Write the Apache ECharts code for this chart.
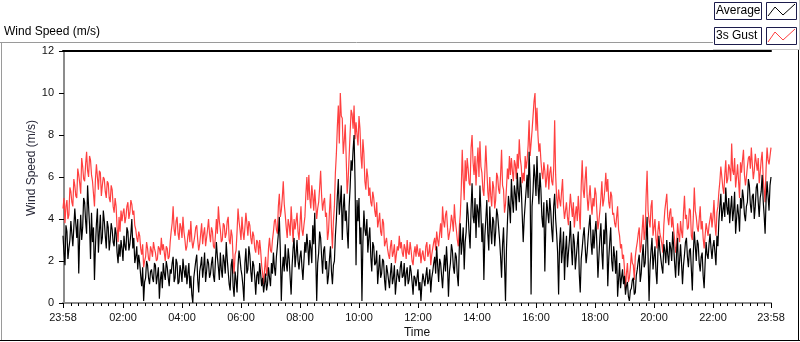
<!DOCTYPE html>
<html>
<head>
<meta charset="utf-8">
<title>Wind Speed (m/s)</title>
<script src="https://cdn.jsdelivr.net/npm/echarts@6.0.0/dist/echarts.min.js"></script>
<style>
  html, body { margin: 0; padding: 0; background: #fff; }
  #chart { width: 800px; height: 342px; }
</style>
</head>
<body>
<div id="chart"></div>
<script>
  // minutes from midnight; the record starts at 23:58 of the day before
  const startMinute = -2;
  const stepMinutes = 2;

  // one row per hour (30 samples), last row has the closing sample
  const avgSpeed = [
    3.2, 2.4, 1.8, 3.7, 3.4, 2.1, 2.6, 3.0, 3.9, 3.3, 2.7, 3.6, 4.5, 3.8, 3.1, 4.0, 1.4, 3.2, 4.2, 3.0, 3.6, 5.0, 4.8, 3.9, 3.3, 5.6, 4.6, 3.7, 2.1, 4.3,
    2.9, 3.6, 1.1, 2.7, 3.8, 4.5, 2.4, 3.4, 4.2, 2.8, 3.1, 4.4, 3.9, 3.2, 2.6, 3.9, 3.6, 2.5, 3.0, 3.8, 3.5, 2.9, 2.7, 3.6, 3.3, 2.4, 1.9, 2.8, 2.2, 3.0,
    2.6, 2.0, 3.2, 2.7, 2.5, 3.6, 3.4, 2.5, 2.8, 3.3, 4.0, 2.6, 3.1, 1.9, 2.2, 2.7, 1.6, 2.3, 1.9, 1.3, 0.8, 1.7, 0.1, 1.0, 1.2, 2.0, 1.8, 1.2, 0.9, 1.5,
    1.6, 1.2, 1.0, 1.9, 1.8, 0.9, 1.3, 1.7, 0.2, 1.1, 1.5, 0.7, 1.9, 1.4, 1.1, 2.0, 1.7, 1.2, 0.8, 1.6, 1.4, 1.9, 2.2, 1.0, 1.2, 2.1, 1.9, 0.9, 1.0, 1.8,
    1.5, 1.0, 2.1, 1.6, 1.2, 1.8, 0.9, 1.4, 1.9, 0.7, 1.3, 0.4, 0.0, 1.2, 1.6, 2.0, 2.3, 1.1, 0.5, 1.5, 1.8, 2.2, 1.2, 1.7, 2.4, 1.0, 1.5, 2.1, 1.9, 1.2,
    1.4, 1.9, 2.2, 1.3, 1.0, 2.0, 2.9, 2.2, 1.7, 1.1, 2.4, 1.6, 1.2, 2.3, 2.0, 1.4, 2.9, 2.1, 1.5, 0.9, 0.6, 1.8, 2.1, 0.8, 0.3, 1.5, 1.1, 0.5, 1.8, 2.5,
    2.1, 1.6, 1.3, 0.8, 0.1, 1.9, 2.6, 1.4, 1.6, 2.7, 2.3, 1.5, 1.0, 2.0, 1.8, 1.2, 0.4, 1.3, 1.5, 0.9, 1.9, 1.4, 0.8, 1.2, 0.5, 0.9, 1.4, 0.6, 0.9, 1.7,
    1.2, 0.8, 1.9, 1.4, 2.4, 1.7, 1.3, 2.2, 2.7, 3.3, 4.1, 2.5, 0.1, 1.6, 2.2, 1.5, 2.8, 1.9, 1.5, 2.6, 2.1, 1.2, 0.4, 1.8, 2.6, 3.1, 1.7, 2.3, 3.0, 2.0,
    1.6, 2.2, 2.5, 1.7, 1.1, 2.0, 2.9, 2.4, 3.3, 2.7, 1.8, 3.0, 2.6, 1.9, 3.7, 2.8, 4.3, 2.3, 0.1, 1.9, 2.4, 3.4, 3.1, 2.2, 1.4, 2.5, 2.7, 1.6, 2.0, 0.9,
    1.3, 2.1, 2.7, 1.5, 0.9, 1.8, 2.0, 3.2, 4.0, 5.1, 5.9, 4.2, 4.8, 5.6, 3.0, 4.5, 5.2, 3.9, 4.4, 3.4, 2.6, 4.6, 5.5, 6.8, 6.3, 7.3, 8.0, 5.8, 1.8, 4.9,
    3.9, 5.0, 2.8, 3.6, 0.1, 2.9, 4.4, 3.5, 3.2, 4.0, 2.4, 3.1, 3.6, 2.2, 1.5, 2.9, 2.7, 1.8, 1.9, 2.5, 0.9, 1.6, 2.3, 1.2, 1.4, 2.1, 2.0, 1.1, 0.6, 1.8,
    1.5, 1.1, 0.7, 1.4, 1.9, 0.9, 1.2, 1.8, 0.4, 1.0, 1.6, 1.3, 1.0, 1.7, 2.0, 1.2, 1.3, 1.9, 0.8, 1.4, 1.7, 0.9, 1.1, 1.8, 1.5, 1.0, 0.4, 1.3, 1.2, 0.8,
    1.2, 1.6, 0.6, 1.0, 0.1, 0.9, 1.4, 1.1, 0.8, 1.3, 1.7, 0.9, 1.1, 1.6, 0.5, 1.2, 1.5, 1.9, 2.2, 1.4, 2.7, 1.8, 1.0, 2.1, 1.9, 1.3, 0.7, 1.6, 2.3, 1.5,
    2.7, 1.8, 0.3, 1.5, 1.9, 2.8, 2.5, 1.7, 1.4, 2.4, 2.2, 1.3, 0.8, 2.6, 3.8, 2.3, 2.9, 3.6, 1.6, 2.9, 3.4, 4.8, 4.2, 3.3, 2.6, 4.5, 5.7, 4.1, 3.8, 5.0,
    3.1, 4.7, 4.4, 3.6, 5.6, 4.3, 2.9, 3.8, 1.1, 3.2, 4.0, 4.9, 3.3, 2.5, 4.6, 3.5, 2.8, 4.1, 3.9, 2.7, 3.4, 4.5, 4.2, 3.6, 3.0, 2.2, 1.2, 2.8, 3.6, 1.9,
    0.1, 2.6, 3.9, 5.1, 4.6, 3.8, 5.9, 4.9, 4.3, 5.6, 5.2, 4.4, 6.2, 5.3, 4.8, 6.0, 5.5, 4.2, 2.9, 4.0, 4.7, 5.4, 6.1, 5.0, 7.2, 5.8, 0.4, 4.6, 5.3, 6.6,
    6.0, 5.1, 7.0, 5.6, 4.7, 6.2, 5.4, 4.1, 3.6, 4.8, 1.5, 3.7, 4.9, 4.3, 3.8, 5.0, 4.4, 3.5, 2.9, 4.6, 5.2, 4.0, 3.3, 2.4, 0.4, 2.8, 3.6, 1.9, 2.5, 3.4,
    1.1, 2.5, 3.2, 1.7, 2.4, 3.0, 3.9, 2.6, 1.8, 3.3, 2.9, 1.6, 2.2, 2.8, 3.4, 1.4, 0.5, 2.1, 2.6, 3.2, 3.6, 2.7, 1.9, 2.4, 3.1, 3.7, 4.2, 2.9, 2.3, 3.5,
    2.6, 3.4, 3.9, 2.7, 1.2, 2.2, 3.1, 3.8, 2.4, 1.6, 3.5, 2.8, 4.3, 3.2, 0.8, 2.1, 2.9, 3.6, 2.0, 1.5, 2.7, 2.2, 1.4, 2.5, 0.3, 1.1, 1.9, 0.7, 1.2, 1.6,
    0.9, 1.3, 0.4, 0.8, 1.0, 0.3, 0.1, 0.6, 0.7, 1.1, 1.2, 0.4, 0.5, 1.3, 1.6, 2.0, 2.3, 1.0, 1.4, 2.2, 2.8, 1.7, 1.9, 3.0, 4.1, 2.2, 0.1, 1.8, 2.5, 3.1,
    1.6, 2.2, 2.7, 1.5, 0.9, 2.4, 3.2, 2.5, 2.1, 1.7, 1.4, 2.8, 2.5, 1.9, 3.0, 2.3, 1.8, 2.9, 2.6, 2.0, 3.4, 2.7, 1.9, 1.2, 2.4, 3.1, 1.3, 2.0, 2.8, 1.9,
    0.9, 1.8, 2.3, 2.9, 3.1, 2.2, 1.7, 2.5, 2.6, 1.6, 0.6, 2.4, 3.4, 2.7, 2.0, 3.0, 2.8, 1.9, 1.5, 2.2, 2.4, 1.3, 0.7, 1.9, 2.9, 2.3, 2.1, 2.8, 3.3, 2.6,
    2.1, 2.7, 3.0, 2.4, 1.8, 3.2, 2.7, 3.9, 4.6, 5.2, 3.9, 4.4, 4.8, 4.1, 5.5, 4.6, 4.2, 5.0, 3.8, 4.5, 5.1, 3.9, 4.4, 5.3, 3.3, 4.0, 4.7, 4.2, 3.4, 5.0,
    4.5, 5.4, 5.0, 4.2, 3.9, 4.6, 4.8, 5.9, 5.6, 4.7, 4.3, 5.1, 5.2, 4.0, 4.6, 5.5, 5.7, 4.8, 4.1, 5.0, 5.3, 6.1, 4.9, 4.2, 3.3, 4.9, 5.8, 5.1, 4.4, 5.6, 6.0
  ];

  const gustSpeed = [
    4.5, 5.0, 3.8, 4.6, 4.9, 4.0, 4.2, 5.5, 5.3, 4.8, 4.6, 5.9, 5.6, 5.1, 5.0, 6.4, 6.1, 5.7, 5.2, 6.9, 6.5, 5.9, 5.8, 6.6, 7.2, 6.3, 6.0, 7.0, 6.8, 6.1,
    5.8, 5.2, 4.6, 5.9, 6.6, 6.0, 5.4, 6.3, 6.2, 5.1, 5.6, 6.0, 5.9, 5.3, 5.0, 5.8, 5.7, 5.0, 4.8, 5.6, 5.4, 4.6, 4.3, 5.0, 4.6, 3.6, 2.9, 4.1, 3.4, 4.4,
    3.9, 4.3, 4.5, 3.8, 4.1, 4.6, 4.8, 4.0, 4.3, 4.9, 4.7, 4.2, 4.4, 3.7, 3.5, 3.1, 2.9, 3.4, 3.2, 2.6, 2.3, 2.8, 1.7, 2.0, 2.2, 2.9, 2.6, 2.1, 2.0, 2.7,
    2.5, 2.2, 2.9, 2.6, 2.4, 2.0, 2.1, 2.7, 2.6, 2.3, 3.1, 2.5, 2.8, 2.4, 2.0, 2.7, 2.6, 2.1, 2.2, 2.9, 3.4, 3.8, 4.6, 3.5, 3.2, 3.9, 4.1, 3.3, 3.0, 3.8,
    3.6, 3.1, 4.1, 3.4, 3.0, 2.5, 2.7, 3.2, 3.5, 2.9, 3.9, 3.0, 2.6, 2.9, 3.2, 3.6, 3.7, 3.0, 2.5, 2.8, 3.3, 3.8, 2.8, 3.3, 3.6, 2.7, 3.1, 3.5, 4.0, 3.3,
    2.9, 3.6, 3.4, 2.7, 2.6, 3.2, 4.0, 3.3, 4.6, 3.9, 3.5, 2.9, 3.0, 3.8, 3.7, 3.1, 3.3, 3.9, 4.1, 3.0, 2.8, 3.5, 3.2, 2.1, 1.4, 2.3, 2.5, 3.4, 4.5, 3.9,
    3.5, 3.0, 4.1, 3.4, 3.0, 3.6, 4.3, 3.8, 3.2, 3.9, 3.7, 3.1, 2.8, 3.4, 3.2, 2.6, 2.4, 3.0, 2.9, 2.3, 3.0, 2.5, 1.8, 1.4, 0.9, 1.6, 2.2, 1.3, 1.6, 2.6,
    3.1, 2.5, 2.4, 3.0, 3.4, 3.9, 4.0, 3.5, 3.3, 4.6, 5.2, 4.1, 4.4, 5.0, 5.8, 4.7, 4.2, 3.6, 3.1, 4.0, 3.7, 3.2, 4.6, 3.8, 2.9, 4.0, 3.5, 3.9, 4.3, 3.4,
    3.0, 3.8, 4.6, 3.5, 3.2, 3.7, 4.1, 5.2, 6.0, 4.9, 6.1, 5.0, 4.5, 5.6, 5.1, 4.4, 5.4, 4.7, 4.0, 4.5, 4.8, 5.5, 6.3, 5.1, 4.4, 4.8, 5.0, 4.1, 4.3, 3.0,
    3.4, 4.4, 5.2, 3.6, 2.6, 3.9, 4.6, 6.2, 7.1, 8.4, 9.4, 7.6, 10.0, 8.9, 8.8, 7.1, 7.7, 8.5, 6.9, 5.2, 5.9, 7.0, 8.1, 9.2, 9.0, 8.3, 9.4, 7.8, 8.6, 8.0,
    7.5, 8.9, 8.3, 7.0, 6.4, 7.8, 7.1, 5.8, 5.4, 6.4, 6.0, 5.1, 5.5, 4.8, 4.6, 5.3, 5.0, 4.4, 4.1, 4.8, 3.6, 3.9, 4.3, 3.4, 3.2, 4.0, 3.8, 2.7, 2.9, 3.1,
    2.6, 2.3, 2.1, 2.7, 3.0, 2.2, 2.4, 2.8, 1.9, 2.3, 2.7, 2.5, 3.2, 2.6, 2.9, 2.4, 2.2, 2.8, 2.6, 2.1, 3.0, 2.4, 2.3, 2.9, 2.5, 2.0, 1.8, 2.4, 2.7, 2.2,
    2.8, 2.4, 2.2, 2.6, 1.9, 2.3, 2.5, 2.1, 2.0, 2.7, 2.9, 2.2, 2.4, 2.8, 1.8, 2.3, 2.6, 2.9, 3.1, 2.5, 3.4, 3.0, 2.7, 3.3, 3.8, 3.1, 4.6, 3.9, 3.6, 4.2,
    4.4, 3.6, 3.0, 3.3, 3.6, 4.2, 3.9, 3.4, 4.7, 3.9, 3.5, 3.0, 2.7, 3.6, 4.2, 5.4, 7.3, 5.9, 4.9, 6.8, 5.8, 6.9, 6.4, 5.7, 5.6, 7.4, 8.0, 6.7, 6.1, 7.0,
    5.6, 6.6, 7.4, 6.0, 7.7, 6.5, 6.2, 5.4, 5.1, 6.3, 7.5, 6.4, 5.3, 4.8, 6.0, 5.1, 4.6, 5.8, 5.5, 4.5, 4.9, 6.2, 6.0, 5.4, 5.2, 6.1, 7.3, 5.6, 5.4, 4.3,
    4.7, 5.5, 6.4, 5.9, 7.0, 6.1, 6.9, 6.3, 5.8, 6.8, 6.6, 5.9, 7.1, 6.4, 7.8, 6.9, 6.5, 5.7, 6.2, 5.8, 7.0, 6.4, 6.8, 7.5, 8.7, 7.0, 7.6, 8.2, 8.9, 9.6,
    10.0, 8.2, 9.3, 8.0, 7.2, 7.6, 6.8, 6.2, 5.9, 6.7, 6.3, 5.5, 6.0, 6.6, 5.4, 6.2, 6.5, 5.8, 5.6, 6.4, 8.7, 6.1, 5.0, 4.5, 5.4, 4.9, 4.6, 5.3, 5.9, 4.6,
    4.0, 4.4, 4.8, 4.1, 3.7, 4.5, 5.2, 4.6, 4.1, 4.8, 3.6, 4.2, 4.6, 3.9, 5.1, 4.3, 3.5, 5.6, 6.8, 5.4, 5.0, 5.9, 6.5, 5.1, 4.4, 5.0, 5.6, 4.8, 4.2, 5.0,
    4.6, 5.5, 5.2, 4.3, 3.5, 3.9, 4.4, 5.0, 5.8, 4.6, 4.9, 5.4, 6.2, 5.3, 5.9, 4.8, 4.5, 5.3, 5.1, 4.2, 4.3, 3.8, 3.6, 4.1, 4.6, 3.5, 3.2, 2.6, 2.8, 2.1,
    2.3, 1.6, 0.6, 1.4, 1.9, 1.0, 1.2, 1.7, 2.4, 1.9, 1.8, 1.1, 2.2, 2.6, 2.9, 3.3, 3.6, 2.4, 2.7, 3.5, 4.2, 3.0, 3.4, 5.1, 6.3, 4.4, 3.9, 3.6, 4.6, 4.9,
    3.2, 3.6, 4.0, 3.1, 2.6, 3.4, 3.9, 3.3, 3.1, 2.8, 2.4, 3.7, 4.4, 4.8, 5.2, 4.1, 3.7, 4.3, 4.5, 3.6, 4.1, 3.5, 3.0, 2.4, 2.7, 3.8, 3.3, 2.9, 3.9, 3.4,
    3.1, 4.3, 5.1, 4.0, 4.2, 3.5, 3.6, 4.5, 4.4, 3.2, 3.0, 4.1, 5.5, 4.4, 4.1, 3.6, 3.4, 4.0, 4.6, 3.5, 3.9, 3.1, 2.6, 3.2, 3.8, 3.5, 3.2, 3.7, 4.0, 4.3,
    3.6, 4.1, 4.9, 3.8, 3.2, 4.3, 4.6, 5.3, 5.8, 6.5, 6.0, 5.5, 5.2, 6.1, 6.8, 5.7, 5.9, 6.6, 6.4, 5.8, 7.6, 6.3, 6.1, 6.9, 5.5, 6.0, 6.6, 5.8, 5.0, 6.7,
    6.2, 6.8, 7.3, 6.1, 5.6, 6.0, 6.5, 6.9, 7.0, 6.4, 7.4, 6.6, 5.9, 6.3, 7.1, 6.7, 6.3, 6.9, 5.7, 6.2, 6.8, 7.2, 6.0, 5.4, 4.8, 6.4, 7.4, 6.8, 6.6, 7.0, 7.4
  ];

  const tickMinutes = [-2, 120, 240, 360, 480, 600, 720, 840, 960, 1080, 1200, 1320, 1438];
  const tickLabels = ['23:58', '02:00', '04:00', '06:00', '08:00', '10:00', '12:00',
    '14:00', '16:00', '18:00', '20:00', '22:00', '23:58'];

  const minorTicks = [];
  for (let m = 15; m < 1438; m += 15) minorTicks.push(m);

  const font = '"Liberation Sans", Arial, sans-serif';
  const textColor = '#111';

  function toPoints(values) {
    return values.map((v, i) => [startMinute + i * stepMinutes, v]);
  }

  const chart = echarts.init(document.getElementById('chart'), null, { renderer: 'canvas' });

  chart.setOption({
    animation: false,
    backgroundColor: '#fff',
    grid: { left: 63, right: 29, top: 51, bottom: 39 },
    xAxis: [
      {
        type: 'value',
        min: -2,
        max: 1438,
        position: 'bottom',
        axisLine: { show: true, lineStyle: { color: '#8c8c8c', width: 2 } },
        axisTick: {
          show: true,
          customValues: tickMinutes,
          length: 5,
          lineStyle: { color: '#000', width: 1 }
        },
        axisLabel: {
          customValues: tickMinutes,
          formatter: (value) => tickLabels[tickMinutes.indexOf(value)],
          color: textColor,
          fontFamily: font,
          fontSize: 11,
          margin: 9
        },
        splitLine: { show: false }
      },
      {
        type: 'value',
        min: -2,
        max: 1438,
        position: 'bottom',
        axisLine: { show: false },
        axisTick: {
          show: true,
          customValues: minorTicks,
          length: 3,
          lineStyle: { color: '#000', width: 1 }
        },
        axisLabel: { show: false },
        splitLine: { show: false }
      },
      {
        type: 'value',
        min: -2,
        max: 1438,
        position: 'top',
        axisLine: { show: true, lineStyle: { color: '#000', width: 2 } },
        axisTick: { show: false },
        axisLabel: { show: false },
        splitLine: { show: false }
      }
    ],
    yAxis: [
      {
        type: 'value',
        min: 0,
        max: 12,
        interval: 2,
        position: 'left',
        axisLine: { show: true, lineStyle: { color: '#000', width: 2 } },
        axisTick: { show: true, length: 5, lineStyle: { color: '#000', width: 1 } },
        axisLabel: { color: textColor, fontFamily: font, fontSize: 11, margin: 9 },
        splitLine: { show: false }
      },
      {
        type: 'value',
        min: 0,
        max: 12,
        position: 'right',
        axisLine: { show: true, lineStyle: { color: '#8c8c8c', width: 2 } },
        axisTick: { show: false },
        axisLabel: { show: false },
        splitLine: { show: false }
      }
    ],
    series: [
      {
        name: '3s Gust',
        type: 'line',
        data: toPoints(gustSpeed),
        showSymbol: false,
        lineStyle: { color: '#ff4040', width: 1.2 },
        itemStyle: { color: '#ff4040' }
      },
      {
        name: 'Average',
        type: 'line',
        data: toPoints(avgSpeed),
        showSymbol: false,
        lineStyle: { color: '#000', width: 1.2 },
        itemStyle: { color: '#000' }
      }
    ],
    graphic: [
      // panel frame
      { type: 'line', shape: { x1: 0, y1: 42.5, x2: 713, y2: 42.5 }, style: { stroke: '#9a9a9a', lineWidth: 1 } },
      { type: 'line', shape: { x1: 1.5, y1: 42, x2: 1.5, y2: 341 }, style: { stroke: '#9a9a9a', lineWidth: 1 } },
      { type: 'line', shape: { x1: 0, y1: 340.5, x2: 800, y2: 340.5 }, style: { stroke: '#000', lineWidth: 1 } },
      { type: 'line', shape: { x1: 798.5, y1: 49, x2: 798.5, y2: 341 }, style: { stroke: '#000', lineWidth: 1 } },
      { type: 'line', shape: { x1: 713, y1: 49.5, x2: 799, y2: 49.5 }, style: { stroke: '#c8c8c8', lineWidth: 1 } },
      { type: 'line', shape: { x1: 799.5, y1: 0, x2: 799.5, y2: 50 }, style: { stroke: '#c8c8c8', lineWidth: 1 } },
      // titles
      {
        type: 'text', left: 4, top: 26,
        style: { text: 'Wind Speed (m/s)', fill: '#000', font: '12px ' + font }
      },
      {
        type: 'text', x: 32, y: 168, rotation: Math.PI / 2,
        style: { text: 'Wind Speed (m/s)', fill: '#2a2a3a', font: '12px ' + font, align: 'center', verticalAlign: 'middle' }
      },
      {
        type: 'text', x: 417, y: 333,
        style: { text: 'Time', fill: textColor, font: '12px ' + font, align: 'center', verticalAlign: 'middle' }
      },
      // legend
      { type: 'rect', shape: { x: 714.5, y: 2.5, width: 47, height: 17 }, style: { fill: '#fff', stroke: '#1c1c4c', lineWidth: 1 } },
      { type: 'rect', shape: { x: 766.5, y: 2.5, width: 30, height: 17 }, style: { fill: '#fff', stroke: '#1c1c4c', lineWidth: 1 } },
      { type: 'rect', shape: { x: 714.5, y: 27.5, width: 47, height: 17 }, style: { fill: '#fff', stroke: '#1c1c4c', lineWidth: 1 } },
      { type: 'rect', shape: { x: 766.5, y: 27.5, width: 30, height: 17 }, style: { fill: '#fff', stroke: '#1c1c4c', lineWidth: 1 } },
      {
        type: 'text', x: 716, y: 11,
        style: { text: 'Average', fill: '#000', font: '12px ' + font, verticalAlign: 'middle' }
      },
      {
        type: 'text', x: 716, y: 36,
        style: { text: '3s Gust', fill: '#000', font: '12px ' + font, verticalAlign: 'middle' }
      },
      {
        type: 'polyline',
        shape: { points: [[768, 16], [775, 7], [783, 15], [795, 4]] },
        style: { stroke: '#000', lineWidth: 1, fill: null }
      },
      {
        type: 'polyline',
        shape: { points: [[768, 42], [775, 32], [783, 40], [795, 29]] },
        style: { stroke: '#ff4040', lineWidth: 1, fill: null }
      }
    ]
  });
</script>
</body>
</html>
